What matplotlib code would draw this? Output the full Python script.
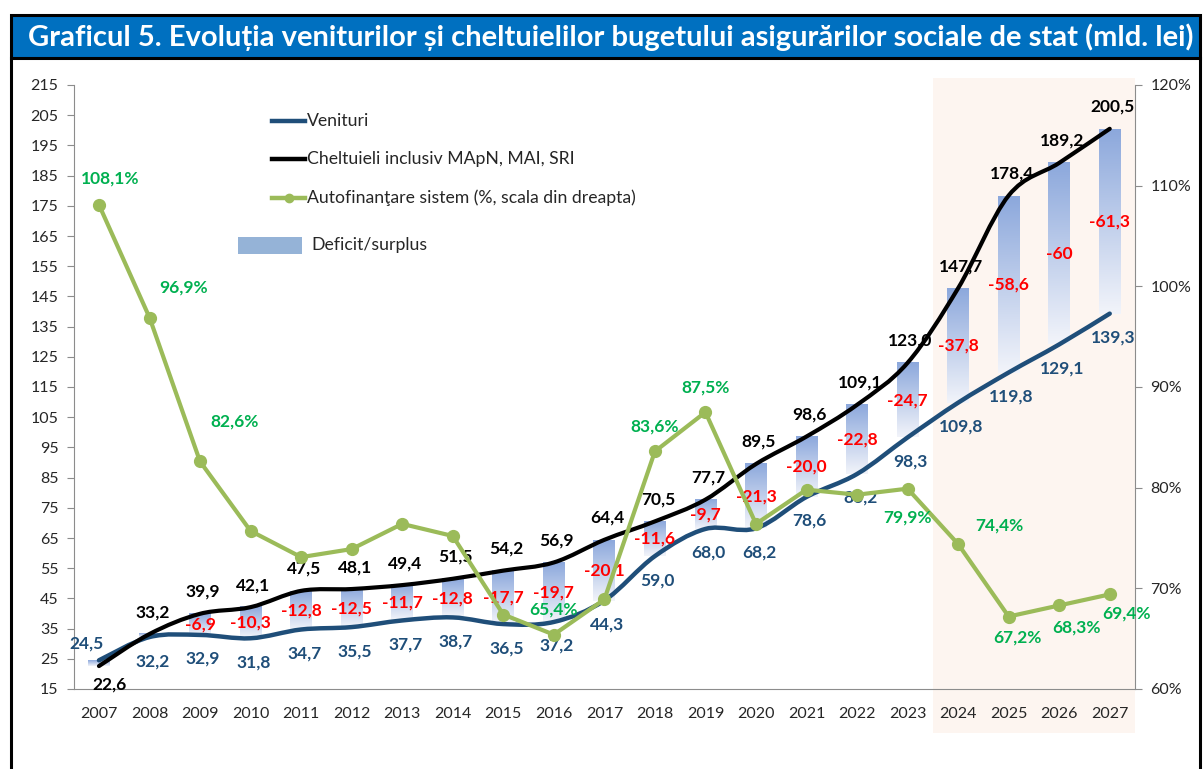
import matplotlib

matplotlib.use("Agg")
import matplotlib.pyplot as plt
import numpy as np
from matplotlib.colors import LinearSegmentedColormap
from matplotlib.lines import Line2D
from matplotlib.patches import PathPatch, Rectangle
from matplotlib.path import Path
from matplotlib.transforms import blended_transform_factory

YEARS = [str(y) for y in range(2007, 2028)]
VENITURI = [24.5, 32.2, 32.9, 31.8, 34.7, 35.5, 37.7, 38.7, 36.5, 37.2, 44.3,
            59.0, 68.0, 68.2, 78.6, 86.2, 98.3, 109.8, 119.8, 129.1, 139.3]
CHELTUIELI = [22.6, 33.2, 39.9, 42.1, 47.5, 48.1, 49.4, 51.5, 54.2, 56.9, 64.4,
              70.5, 77.7, 89.5, 98.6, 109.1, 123.0, 147.7, 178.4, 189.2, 200.5]
DEFICIT = [None, None, -6.9, -10.3, -12.8, -12.5, -11.7, -12.8, -17.7, -19.7,
           -20.1, -11.6, -9.7, -21.3, -20.0, -22.8, -24.7, -37.8, -58.6, -60,
           -61.3]
AUTOFIN = [108.1, 96.9, 82.6, 75.7, 73.1, 73.9, 76.4, 75.2, 67.4, 65.4, 68.9,
           83.6, 87.5, 76.4, 79.8, 79.3, 79.9, 74.4, 67.2, 68.3, 69.4]
# which self-financing points carry a label, with offset in pixels
AUTOFIN_LABELS = {0: (11, 26), 1: (34, 30), 2: (35, 40), 9: (0, 25),
                  11: (0, 25), 12: (0, 25), 16: (0, -29), 17: (41, 19),
                  18: (9, -21), 19: (17, -22), 20: (17, -19)}
FORECAST_FROM = 17  # 2024

TITLE = ("Graficul 5. Evoluția veniturilor și cheltuielilor bugetului "
         "asigurărilor sociale de stat (mld. lei)")

BLUE = "#1F4E79"
GREEN_LINE = "#9BBB59"
GREEN_TEXT = "#00B050"
RED = "#FF0000"
TITLE_BG = "#0070C0"
SHADE = "#FDF5F0"
AXIS_GRAY = "#8C8C8C"

plt.rcParams["font.family"] = ["Lato", "DejaVu Sans"]


def fmt(v):
    if isinstance(v, int):
        return str(v)
    return f"{v:.1f}".replace(".", ",")


def smooth_path(xs, ys):
    pts = np.column_stack([xs, ys]).astype(float)
    n = len(pts)
    verts = [pts[0]]
    codes = [Path.MOVETO]
    for i in range(n - 1):
        p0 = pts[i - 1] if i > 0 else pts[i]
        p1, p2 = pts[i], pts[i + 1]
        p3 = pts[i + 2] if i + 2 < n else pts[i + 1]
        verts += [p1 + (p2 - p0) / 6, p2 - (p3 - p1) / 6, p2]
        codes += [Path.CURVE4] * 3
    return Path(verts, codes)


fig = plt.figure(figsize=(12.03, 7.69), dpi=100)
W, H = 1203, 769

# title bar and frame
fig.patches.append(Rectangle((11 / W, 1 - 58 / H), (1200 - 11) / W, 43 / H,
                             transform=fig.transFigure, facecolor=TITLE_BG,
                             edgecolor="black", lw=2.2))
fig.add_artist(Line2D([11 / W, 11 / W], [0, 1 - 58 / H], color="black", lw=2.2))
fig.add_artist(Line2D([1200 / W, 1200 / W], [0, 1 - 58 / H], color="black",
                      lw=2.2))
fig.text(0.508, 1 - 37 / H, TITLE, color="white", fontsize=21,
         fontweight="bold", ha="center", va="center")

ax = fig.add_axes([73.7 / W, 80 / H, (1135 - 73.7) / W, 604 / H])
x = np.arange(len(YEARS))

# forecast shading
trans = blended_transform_factory(ax.transData, ax.transAxes)
ax.add_patch(Rectangle((FORECAST_FROM - 0.5, -0.073), len(YEARS) - FORECAST_FROM,
                       1.085, transform=trans, facecolor=SHADE,
                       edgecolor="none", clip_on=False, zorder=0))

# gradient deficit bars
cmap = LinearSegmentedColormap.from_list("bar", ["#F2F4FA", "#8CA8DC"])
grad = np.linspace(0, 1, 128)[:, None]
bw = 0.43
for xi, v, c in zip(x, VENITURI, CHELTUIELI):
    lo, hi = min(v, c), max(v, c)
    ax.imshow(grad, extent=[xi - bw / 2, xi + bw / 2, lo, hi], origin="lower",
              cmap=cmap, aspect="auto", zorder=2, interpolation="bilinear")

ax.add_patch(PathPatch(smooth_path(x, VENITURI), fill=False, edgecolor=BLUE,
                       lw=3.2, zorder=3, capstyle="round"))
ax.add_patch(PathPatch(smooth_path(x, CHELTUIELI), fill=False,
                       edgecolor="black", lw=3.0, zorder=4, capstyle="round"))

ax.set_xlim(-0.5, len(YEARS) - 0.5)
ax.set_ylim(15, 215)
ax.set_yticks(np.arange(15, 216, 10))
ax.set_xticks(x)
ax.set_xticklabels(YEARS)
for side in ("top", "right"):
    ax.spines[side].set_visible(False)
for side in ("left", "bottom"):
    ax.spines[side].set_color(AXIS_GRAY)
ax.tick_params(axis="y", colors=AXIS_GRAY, labelcolor="#262626",
               labelsize=11.5, length=5, pad=6)
ax.tick_params(axis="x", length=0, labelsize=11.5, labelcolor="#262626", pad=13)

lbl = dict(fontsize=12.5, fontweight="bold", ha="center", va="center",
           zorder=8)
for i, (xi, v, c) in enumerate(zip(x, VENITURI, CHELTUIELI)):
    if i == 0:
        ax.annotate(fmt(v), (xi, v), xytext=(-12, 17),
                    textcoords="offset pixels", color=BLUE, **lbl)
        ax.annotate(fmt(c), (xi, c), xytext=(11, -18),
                    textcoords="offset pixels", color="black", **lbl)
        continue
    ax.annotate(fmt(v), (xi, v), xytext=(3, -24), textcoords="offset pixels",
                color=BLUE, **lbl)
    ax.annotate(fmt(c), (xi, c), xytext=(3, 22), textcoords="offset pixels",
                color="black", **lbl)
    if DEFICIT[i] is not None:
        ax.text(xi, (v + c) / 2, fmt(DEFICIT[i]), color=RED, **lbl)

# self-financing on right axis
ax2 = ax.twinx()
ax2.plot(x, AUTOFIN, color=GREEN_LINE, lw=3.0, marker="o", ms=8.5,
         zorder=5)
ax2.set_ylim(60, 120)
ax2.set_yticks(np.arange(60, 121, 10))
ax2.set_yticklabels([f"{t}%" for t in range(60, 121, 10)])
for side in ("top", "left", "bottom"):
    ax2.spines[side].set_visible(False)
ax2.spines["right"].set_color(AXIS_GRAY)
ax2.tick_params(axis="y", colors=AXIS_GRAY, labelcolor="#262626",
                labelsize=11.5, length=5, pad=6)
for i, (dx, dy) in AUTOFIN_LABELS.items():
    ax2.annotate(fmt(AUTOFIN[i]) + "%", (x[i], AUTOFIN[i]), xytext=(dx, dy),
                 textcoords="offset pixels", color=GREEN_TEXT, **lbl)

# legend drawn by hand to follow the original layout
def fx(px):
    return (px - 73.7) / (1135 - 73.7)


def fy(py):
    return (684 - py) / 604


leg = [("Venituri", BLUE, 116, False), ("Cheltuieli inclusiv MApN, MAI, SRI",
                                        "black", 154, False),
       ("Autofinanţare sistem (%, scala din dreapta)", GREEN_LINE, 193, True)]
for text, color, py, mk in leg:
    ax.add_line(Line2D([fx(272), fx(305)], [fy(py), fy(py)],
                       transform=ax.transAxes, color=color, lw=3.2,
                       zorder=9))
    if mk:
        ax.add_line(Line2D([fx(288.5)], [fy(py)], transform=ax.transAxes,
                           color=color, marker="o", ms=6, zorder=9))
    ax.text(fx(307), fy(py), text, transform=ax.transAxes, fontsize=12.7,
            va="center", ha="left", color="#262626", zorder=9)
ax.add_patch(Rectangle((fx(238), fy(249)), fx(302) - fx(238), fy(232) - fy(249),
                       transform=ax.transAxes, facecolor="#95B3D7",
                       edgecolor="none", zorder=9))
ax.text(fx(311), fy(240), "Deficit/surplus", transform=ax.transAxes,
        fontsize=12.7, va="center", ha="left", color="#262626", zorder=9)

fig.savefig("out.png", dpi=100)
